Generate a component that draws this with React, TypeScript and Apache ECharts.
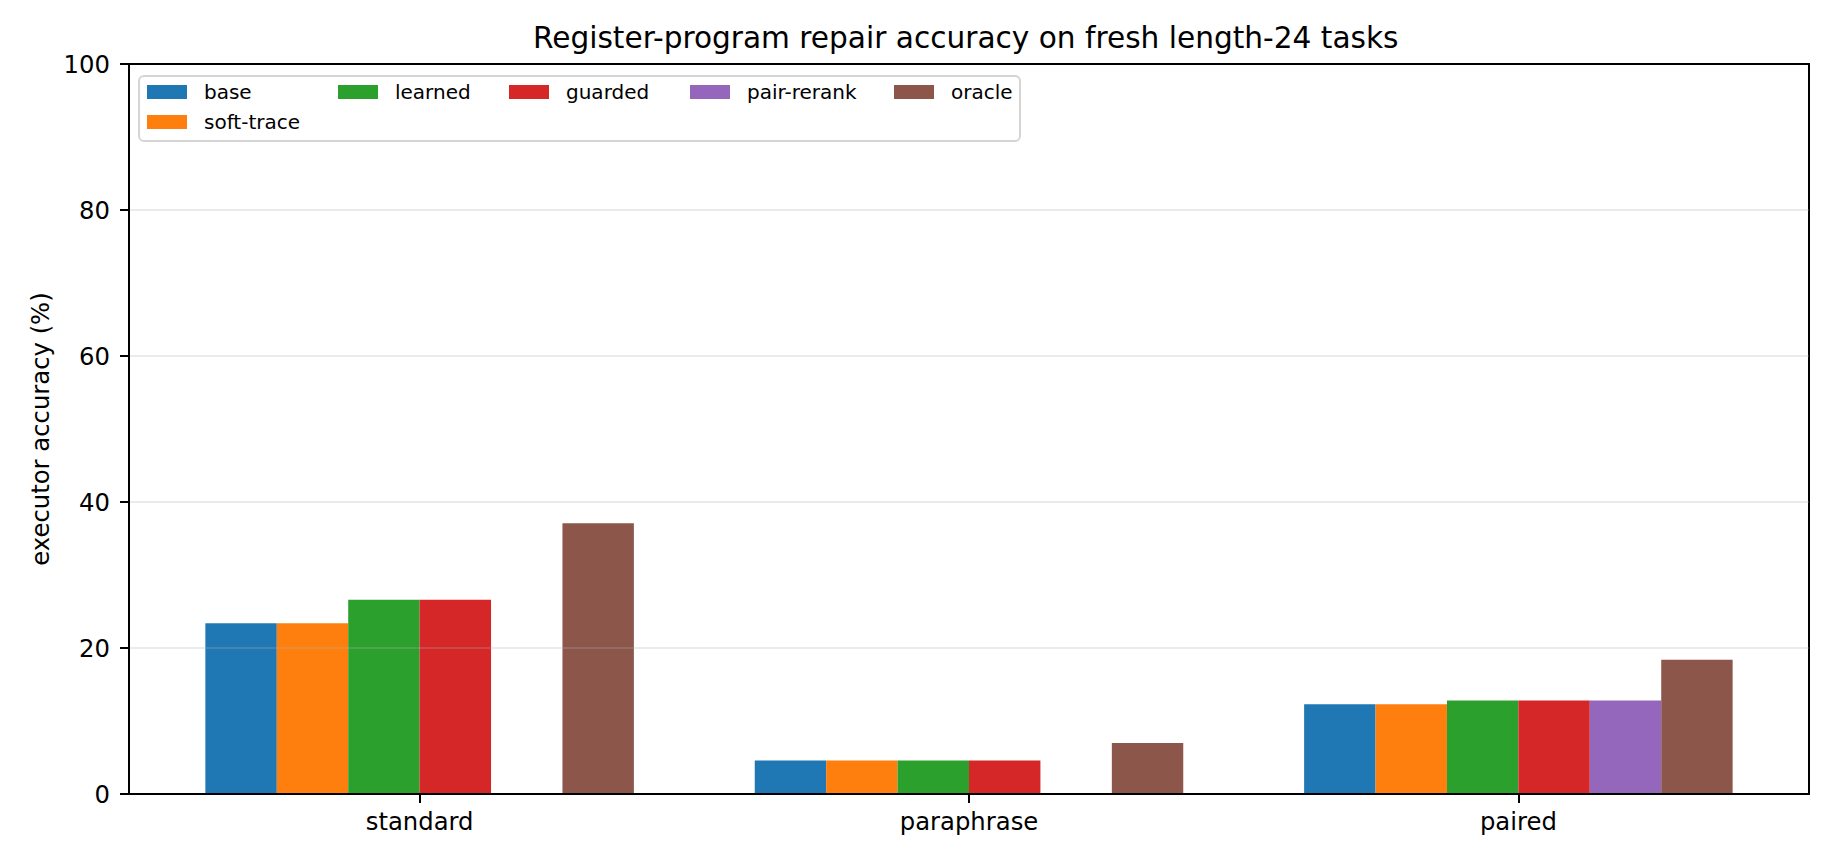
import React, { useEffect, useRef } from "react";
import * as echarts from "echarts";

const categories = ["standard", "paraphrase", "paired"];
const seriesNames = ["base", "soft-trace", "learned", "guarded", "pair-rerank", "oracle"];
const seriesColors = ["#1f77b4", "#ff7f0e", "#2ca02c", "#d62728", "#9467bd", "#8c564b"];

const baseValues = [23.4, 4.6, 12.3];
const softTraceValues = [23.4, 4.6, 12.3];
const learnedValues = [26.6, 4.6, 12.8];
const guardedValues = [26.6, 4.6, 12.8];
const pairRerankValues: (number | null)[] = [null, null, 12.8];
const oracleValues = [37.1, 7.0, 18.4];

const yTicks = [0, 20, 40, 60, 80, 100];

const allValues = [baseValues, softTraceValues, learnedValues, guardedValues, pairRerankValues, oracleValues];

const W = 1835;
const H = 864;
const FONT = "DejaVu Sans";

export default function App() {
  const ref = useRef<HTMLDivElement>(null);

  useEffect(() => {
    document.body.style.margin = "0";
    if (!ref.current) return;
    const chart = echarts.init(ref.current, null, { renderer: "svg" });

    const barW = 0.13;
    const xMin = -0.529;
    const xMax = 2.529;
    const gridLeft = 129;
    const gridRight = 26;
    const gridTop = 64;
    const gridBottom = 70;
    const plotW = W - gridLeft - gridRight;
    const barPx = (barW * plotW) / (xMax - xMin);

    const series = seriesNames.map((name, s) => ({
      name,
      type: "bar",
      barWidth: barPx,
      barGap: "-100%",
      itemStyle: { color: seriesColors[s] },
      z: 2,
      data: allValues[s]
        .map((v, g) => (v == null ? null : [g + (s - 2.5) * barW, v]))
        .filter((d) => d != null),
    }));

    const legendPos: { name: string; left: number; top: number }[] = [
      { name: "base", left: 147, top: 82 },
      { name: "soft-trace", left: 147, top: 112 },
      { name: "learned", left: 338, top: 82 },
      { name: "guarded", left: 509, top: 82 },
      { name: "pair-rerank", left: 690, top: 82 },
      { name: "oracle", left: 894, top: 82 },
    ];

    const legends = legendPos.map((p) => ({
      data: [p.name],
      left: p.left,
      top: p.top,
      padding: 0,
      icon: "rect",
      itemWidth: 40,
      itemHeight: 14,
      selectedMode: false,
      z: 6,
      textStyle: {
        fontFamily: FONT,
        fontSize: 20,
        color: "#000",
        padding: [0, 0, 0, 12],
      },
    }));

    chart.setOption({
      animation: false,
      backgroundColor: "#fff",
      title: {
        text: "Register-program repair accuracy on fresh length-24 tasks",
        left: 533,
        top: 23,
        padding: 0,
        textStyle: { fontFamily: FONT, fontSize: 29.6, fontWeight: "normal", color: "#000" },
      },
      legend: legends,
      graphic: [
        {
          type: "rect",
          z: 5,
          shape: { x: 139, y: 76, width: 881, height: 65, r: 5 },
          style: { fill: "rgba(255,255,255,0.8)", stroke: "#d5d5d5", lineWidth: 2 },
        },
      ],
      grid: {
        left: gridLeft,
        right: gridRight,
        top: gridTop,
        bottom: gridBottom,
        show: true,
        borderColor: "#000",
        borderWidth: 2,
        backgroundColor: "transparent",
        outerBoundsMode: "none",
      },
      xAxis: {
        type: "value",
        min: xMin,
        max: xMax,
        z: 5,
        axisLine: { show: true, onZero: false, lineStyle: { color: "#000", width: 2 } },
        axisTick: {
          show: true,
          customValues: [0, 1, 2],
          length: 9,
          inside: false,
          lineStyle: { color: "#000", width: 2 },
        },
        axisLabel: {
          show: true,
          customValues: [0, 1, 2],
          margin: 15,
          formatter: (v: number) => categories[Math.round(v)] ?? "",
          fontFamily: FONT,
          fontSize: 24.3,
          color: "#000",
        },
        splitLine: { show: false },
      },
      yAxis: {
        type: "value",
        min: 0,
        max: 100,
        interval: 20,
        z: 5,
        name: "executor accuracy (%)",
        nameLocation: "middle",
        nameGap: 77,
        nameTextStyle: { fontFamily: FONT, fontSize: 24.3, color: "#000" },
        axisLine: { show: true, onZero: false, lineStyle: { color: "#000", width: 2 } },
        axisTick: { show: true, length: 9, inside: false, lineStyle: { color: "#000", width: 2 } },
        axisLabel: {
          margin: 19,
          fontFamily: FONT,
          fontSize: 24.3,
          color: "#000",
          formatter: (v: number) => (yTicks.includes(v) ? String(v) : ""),
        },
        splitLine: {
          show: true,
          showMinLine: false,
          showMaxLine: false,
          lineStyle: { color: "rgba(176,176,176,0.25)", width: 2 },
        },
      },
      series,
    });

    return () => {
      chart.dispose();
    };
  }, []);

  return <div ref={ref} style={{ width: W, height: H }} />;
}
